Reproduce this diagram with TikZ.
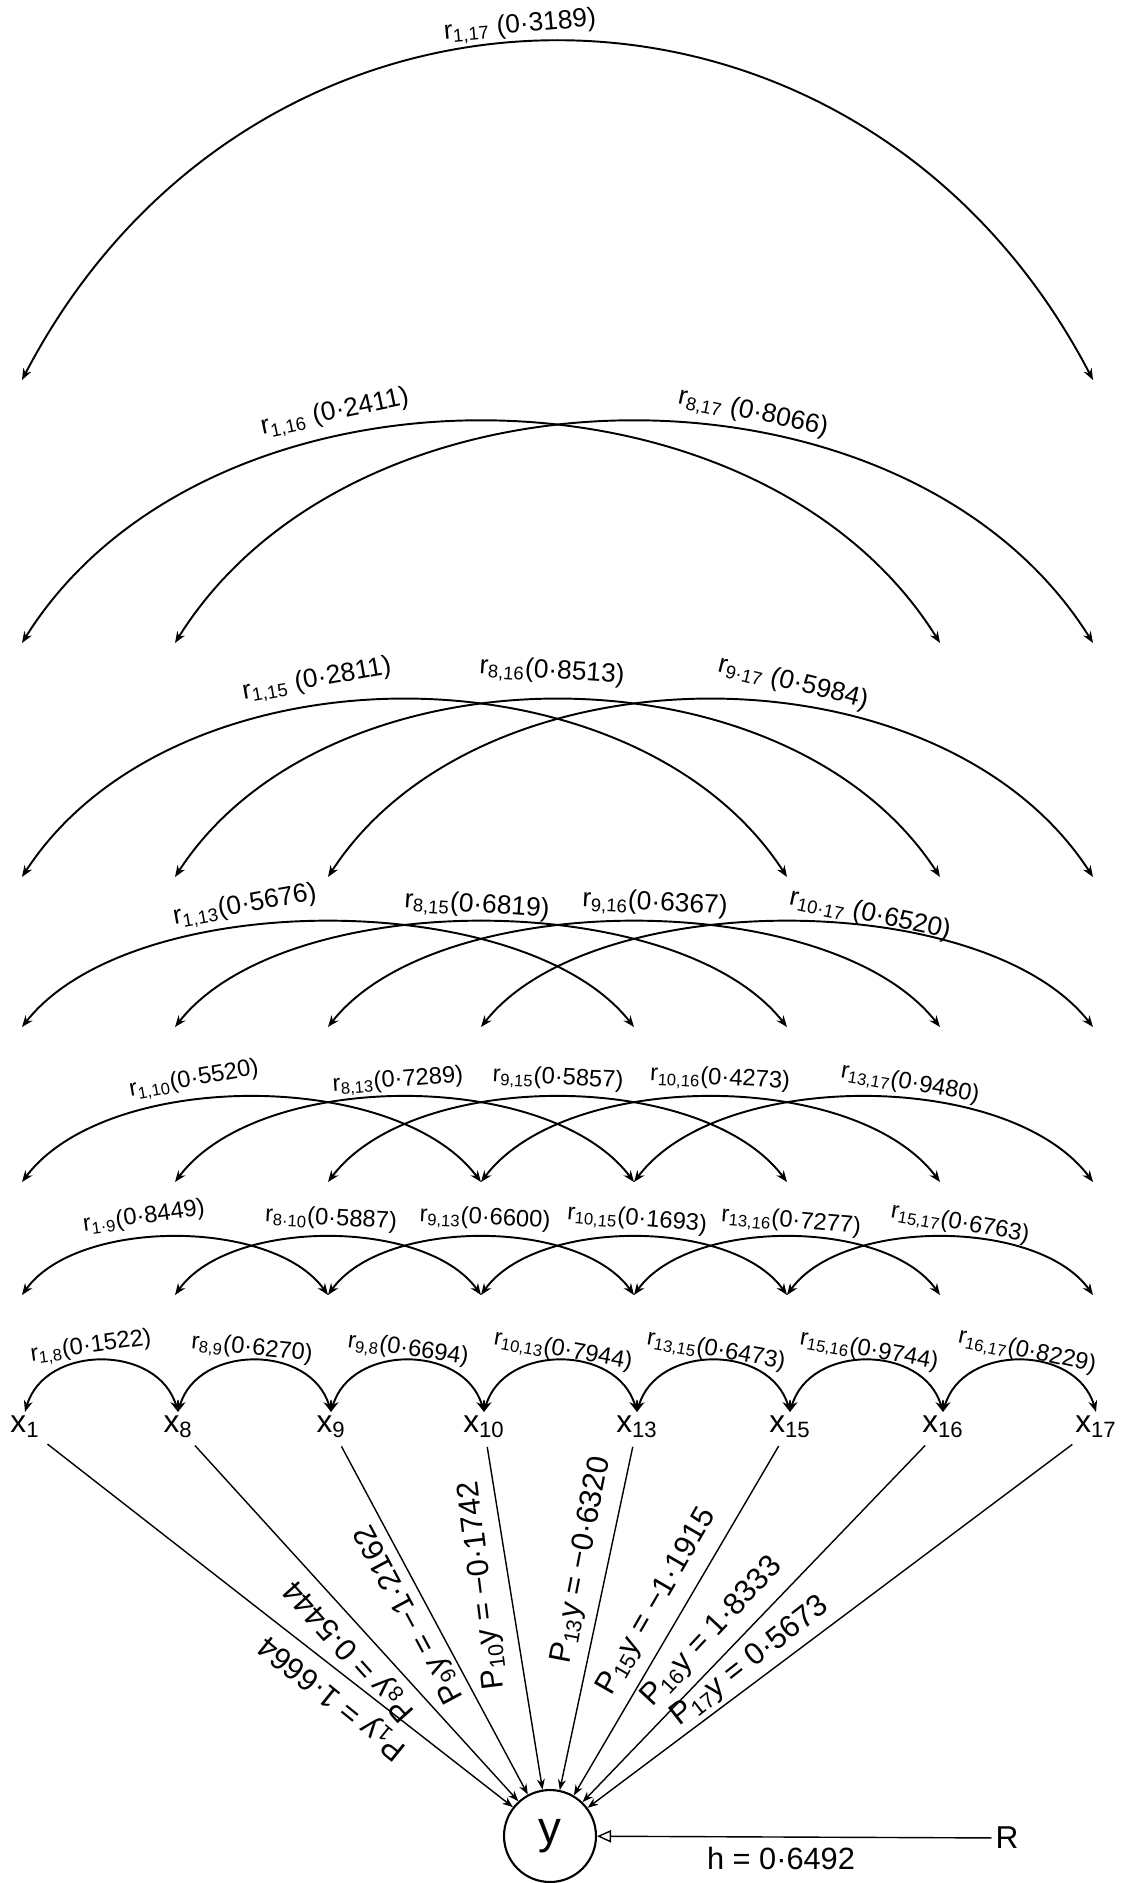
\documentclass[tikz,border=0pt]{standalone}
\usepackage{fontspec}
\setmainfont{Liberation Sans}
\usetikzlibrary{arrows.meta,positioning}
\newcommand{\lsize}[1]{\fontsize{#1}{#1}\selectfont}

\begin{document}
\begin{tikzpicture}[x=0.02cm,y=-0.02cm,
  corr/.style={line width=1.1pt,{Stealth[length=6.5pt,width=5pt]}-{Stealth[length=6.5pt,width=5pt]}},
  pline/.style={line width=0.8pt,-{Stealth[length=6pt,width=4.5pt]},shorten <=3pt},
  rlbl/.style={font=\lsize{15},inner sep=1pt},
  slbl/.style={font=\lsize{13.5},inner sep=0.5pt},
  plbl/.style={font=\lsize{17.5},inner sep=1pt},
  var/.style={font=\lsize{18},inner sep=2pt}]
\useasboundingbox (0,0) rectangle (1121,1883);

\foreach \nm/\i in {1/0,8/1,9/2,10/3,13/4,15/5,16/6,17/7}
  \node[var,anchor=north] (x\nm) at ({25+153*\i},1412) {x\textsubscript{\nm}};
\node[circle,draw,line width=1.2pt,minimum size=1.84cm,font=\lsize{26}] (y) at (550,1836) {y};
\node[var] (R) at (1007,1838) {R};

\foreach \r/\ty in {2/1295,3/1182,4/1027,5/877,6/643,7/380}
  \foreach \i in {0,...,7}
    \coordinate (p\r-\i) at ({22+153*\i},\ty);

\foreach \a/\b in {x1/x8,x8/x9,x9/x10,x10/x13,x13/x15,x15/x16,x16/x17}
  \draw[corr] (\a.north) .. controls +(20,-68) and +(-20,-68) .. (\b.north);
\foreach \r/\dx/\dy in {2/55/77,3/85/113,4/110/140,5/153/236,6/184/295,7/235/451}{
  \pgfmathtruncatemacro{\last}{7-\r}
  \foreach \i in {0,...,\last}{
    \pgfmathtruncatemacro{\j}{\i+\r}
    \draw[corr] (p\r-\i) .. controls +(\dx,-\dy) and +(-\dx,-\dy) .. (p\r-\j);
  }
}

\foreach \nm/\px/\py/\rt/\txt in {
  1-17/520/26/5/{r\textsubscript{1,17} (0·3189)},
  1-16/335/413/12/{r\textsubscript{1,16} (0·2411)},
  8-17/753/413/-12/{r\textsubscript{8,17} (0·8066)},
  1-15/317/680/10/{r\textsubscript{1,15} (0·2811)},
  8-16/552/672/-4/{r\textsubscript{8,16}(0·8513)},
  9-17/793/683/-14/{r\textsubscript{9·17} (0·5984)},
  1-13/245/906/10/{r\textsubscript{1,13}(0·5676)},
  8-15/477/906/-4/{r\textsubscript{8,15}(0·6819)},
  9-16/655/904/-3/{r\textsubscript{9,16}(0·6367)},
  10-17/870/915/-12/{r\textsubscript{10·17} (0·6520)}}
  \node[rlbl,rotate=\rt] (r\nm) at (\px,\py) {\txt};
\foreach \nm/\px/\py/\rt/\txt in {
  1-10/194/1080/10/{r\textsubscript{1,10}(0·5520)},
  8-13/398/1081/4/{r\textsubscript{8,13}(0·7289)},
  9-15/558/1079/-3/{r\textsubscript{9,15}(0·5857)},
  10-16/720/1079/-3/{r\textsubscript{10,16}(0·4273)},
  13-17/910/1084/-10/{r\textsubscript{13,17}(0·9480)},
  1-9/144/1217/8/{r\textsubscript{1·9}(0·8449)},
  8-10/331/1219/-3/{r\textsubscript{8·10}(0·5887)},
  9-13/485/1219/-3/{r\textsubscript{9,13}(0·6600)},
  10-15/637/1220/-5/{r\textsubscript{10,15}(0·1693)},
  13-16/791/1222/-5/{r\textsubscript{13,16}(0·7277)},
  15-17/960/1224/-10/{r\textsubscript{15,17}(0·6763)},
  1-8/91/1347/8/{r\textsubscript{1,8}(0·1522)},
  8-9/252/1349/-6/{r\textsubscript{8,9}(0·6270)},
  9-8/408/1350/-8/{r\textsubscript{9,8}(0·6694)},
  10-13/563/1351/-10/{r\textsubscript{10,13}(0·7944)},
  13-15/716/1351/-10/{r\textsubscript{13,15}(0·6473)},
  15-16/869/1351/-10/{r\textsubscript{15,16}(0·9744)},
  16-17/1027/1352/-12/{r\textsubscript{16,17}(0·8229)}}
  \node[slbl,rotate=\rt] (r\nm) at (\px,\py) {\txt};

\foreach \nm in {1,8,9,10,13,15,16,17}
  \draw[pline] (x\nm) -- (y);
\draw[line width=0.8pt,-{Triangle[open,length=8pt,width=7pt]}] (R) -- (y);

\foreach \nm/\px/\py/\rt/\txt in {
  1/333/1697/141/{P\textsubscript{1}y = 1·6664},
  8/350/1650/132/{P\textsubscript{8}y = 0·5444},
  9/410/1614/118/{P\textsubscript{9}y = −1·2162},
  10/483/1585/97/{P\textsubscript{10}y = −0·1742},
  13/582/1560/79/{P\textsubscript{13}y = −0·6320},
  15/657/1602/60/{P\textsubscript{15}y = −1·1915},
  16/712/1632/47/{P\textsubscript{16}y = 1·8333},
  17/750/1662/38/{P\textsubscript{17}y = 0·5673}}
  \node[plbl,rotate=\rt] (c\nm) at (\px,\py) {\txt};
\node[plbl] (hval) at (781,1858) {h = 0·6492};
\end{tikzpicture}
\end{document}
